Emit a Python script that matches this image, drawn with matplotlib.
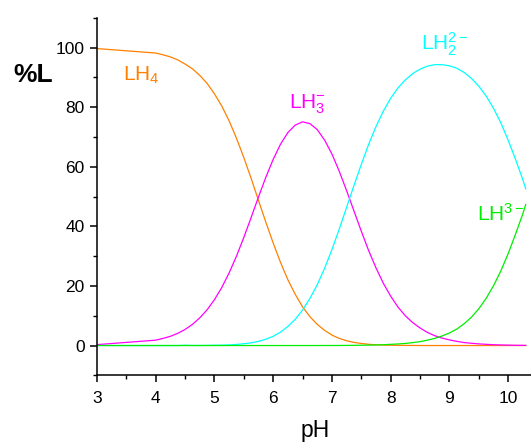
import matplotlib
matplotlib.use("Agg")
import matplotlib.pyplot as plt
from matplotlib.ticker import MultipleLocator

plt.rcParams['font.family'] = ['Liberation Sans', 'DejaVu Sans']
plt.rcParams['mathtext.fontset'] = 'custom'
plt.rcParams['mathtext.rm'] = 'Liberation Sans'
plt.rcParams['mathtext.it'] = 'Liberation Sans'
plt.rcParams['mathtext.bf'] = 'Liberation Sans:bold'

ph = [3.0, 4.0, 4.125, 4.25, 4.375, 4.5, 4.625, 4.75, 4.875, 5.0, 5.125, 5.25,
      5.375, 5.5, 5.625, 5.75, 5.875, 6.0, 6.125, 6.25, 6.375, 6.5, 6.625,
      6.75, 6.875, 7.0, 7.125, 7.25, 7.375, 7.5, 7.625, 7.75, 7.875, 8.0,
      8.125, 8.25, 8.375, 8.5, 8.625, 8.75, 8.875, 9.0, 9.125, 9.25, 9.375,
      9.5, 9.625, 9.75, 9.875, 10.0, 10.125, 10.25, 10.3]
lh4 = [99.7, 98.2, 97.6, 96.9, 95.9, 94.5, 92.9, 90.7, 88.0, 84.5, 80.4, 75.4,
       69.6, 63.1, 56.1, 48.7, 41.4, 34.4, 27.9, 22.1, 17.2, 13.0, 9.7,
       7.1, 5.1, 3.5, 2.4, 1.6, 1.05, 0.7, 0.42, 0.25, 0.15, 0.1,
       0.05, 0.03, 0.02, 0.01, 0.0, 0.0, 0.0, 0.0, 0.0, 0.0, 0.0,
       0.0, 0.0, 0.0, 0.0, 0.0, 0.0, 0.0, 0.0]
lh3 = [0.3, 1.8, 2.4, 3.1, 4.1, 5.4, 7.1, 9.3, 12.0, 15.4, 19.5, 24.4,
       30.0, 36.3, 43.0, 49.9, 56.5, 62.5, 67.6, 71.5, 74.0, 75.1, 74.5,
       72.5, 69.0, 64.3, 58.5, 52.0, 45.2, 38.4, 31.9, 26.1, 20.9, 16.6,
       12.9, 10.0, 7.7, 5.9, 4.4, 3.3, 2.5, 1.9, 1.4, 1.0, 0.76,
       0.55, 0.4, 0.28, 0.2, 0.14, 0.09, 0.06, 0.05]
lh2 = [0.0, 0.0, 0.0, 0.0, 0.0, 0.1, 0.02, 0.03, 0.05, 0.1, 0.13, 0.2,
       0.36, 0.6, 0.9, 1.4, 2.1, 3.1, 4.5, 6.4, 8.8, 11.9, 15.8,
       20.4, 25.9, 32.2, 39.1, 46.4, 53.7, 60.8, 67.5, 73.5, 78.7, 83.0,
       86.5, 89.2, 91.3, 92.8, 93.8, 94.3, 94.3, 93.9, 93.1, 91.7, 89.7,
       87.1, 83.8, 79.7, 74.8, 69.0, 62.6, 55.7, 52.6]
l3 = [0.0, 0.0, 0.0, 0.0, 0.0, 0.0, 0.0, 0.0, 0.0, 0.0, 0.0, 0.0,
      0.0, 0.0, 0.0, 0.0, 0.0, 0.0, 0.0, 0.0, 0.0, 0.0, 0.0,
      0.0, 0.01, 0.01, 0.02, 0.04, 0.06, 0.1, 0.13, 0.2, 0.26, 0.4,
      0.52, 0.7, 0.97, 1.3, 1.8, 2.4, 3.2, 4.2, 5.5, 7.3, 9.5,
      12.3, 15.8, 20.0, 25.0, 30.8, 37.3, 44.2, 47.3]

labels = [r'LH$_4$', r'LH$_3^{-}$', r'LH$_2^{2-}$', r'LH$^{3-}$']
label_pos = [(3.44, 89.0), (6.27, 79.7), (8.52, 99.2), (9.47, 42.0)]
colors = ['#FF8000', '#FF00FF', '#00FFFF', '#00EE00']

fig = plt.figure(figsize=(5.31, 4.44), dpi=100)
ax = fig.add_axes([97/531, 0.1547, 1 - 97/531, 0.9597 - 0.1547])

for ys, c in zip([lh4, lh3, lh2, l3], colors):
    ax.plot(ph, ys, color=c, lw=0.9)

for lab, (x, y), c in zip(labels, label_pos, colors):
    ax.text(x, y, lab, color=c, fontsize=15, ha='left', va='baseline')

ax.set_xlim(3, 10.39)
ax.set_ylim(-10, 110)
ax.xaxis.set_major_locator(MultipleLocator(1))
ax.xaxis.set_minor_locator(MultipleLocator(0.5))
ax.yaxis.set_minor_locator(MultipleLocator(10))
ax.set_yticks([0, 20, 40, 60, 80, 100])
for s in ['top', 'right']:
    ax.spines[s].set_visible(False)
for s in ['left', 'bottom']:
    ax.spines[s].set_linewidth(1.1)
ax.tick_params(which='major', direction='out', length=5, width=1.1, labelsize=12.5, pad=4)
ax.tick_params(which='minor', direction='out', length=3, width=1.0)
ax.tick_params(axis='x', which='major', pad=6)

fig.text(33/531, 1 - 75/444, '%L', fontsize=19, fontweight='bold', ha='center', va='center')
fig.text(315/531, 1 - 437/444, 'pH', fontsize=16.5, ha='center', va='baseline')

fig.savefig('out.png', dpi=100)
